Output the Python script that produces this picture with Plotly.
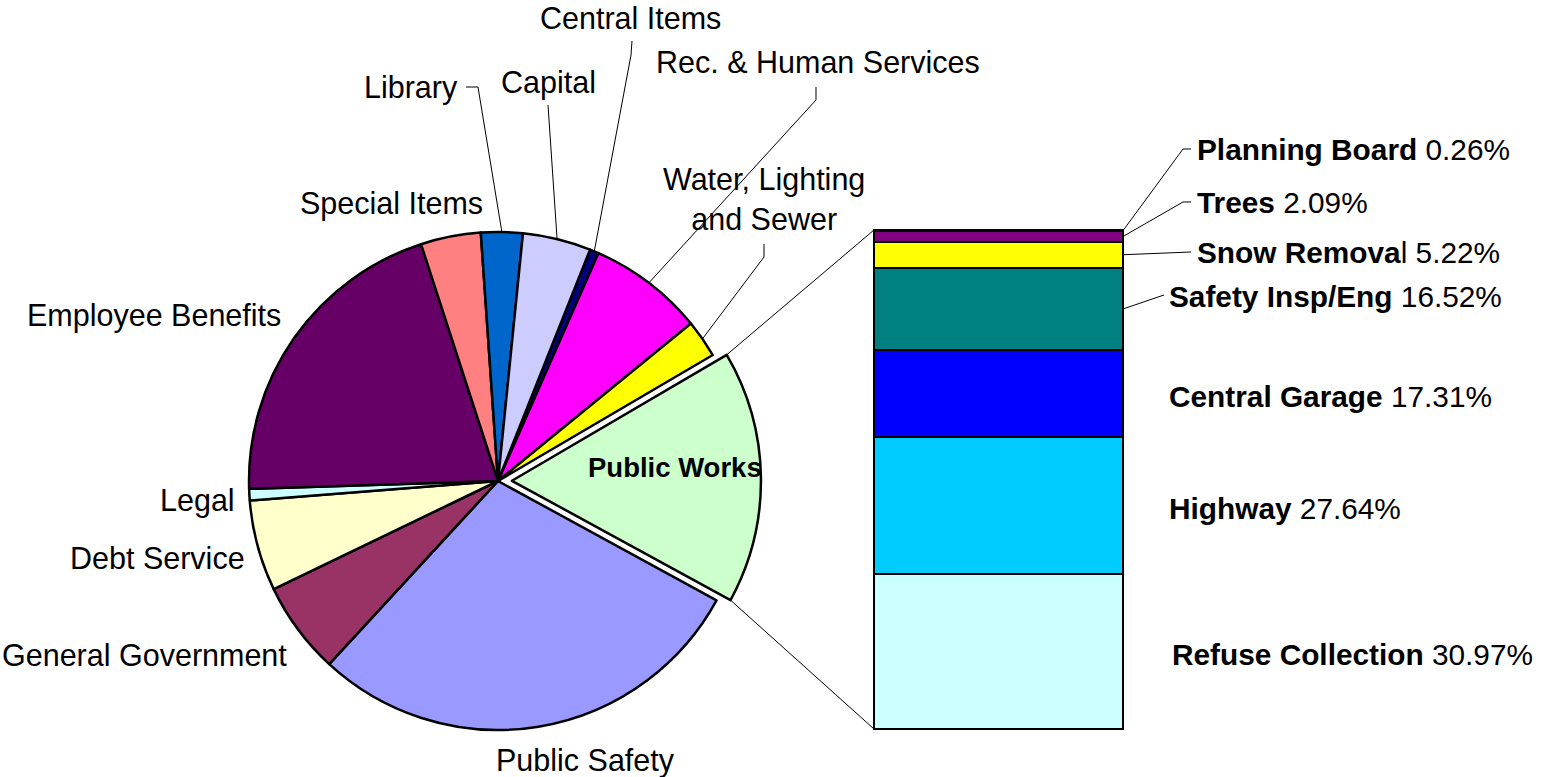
import math
import plotly.graph_objects as go

# ---------------------------------------------------------------
# Budget share by department (percent of total), clockwise order
# ---------------------------------------------------------------
departments = ["Central Items", "Rec. & Human Services", "Water, Lighting and Sewer",
               "Public Works", "Public Safety", "General Government", "Debt Service",
               "Legal", "Employee Benefits", "Special Items", "Library", "Capital"]
dept_share = [0.58, 7.5, 2.45, 16.4, 28.9, 6.0, 5.9, 0.75, 20.5, 3.9, 2.7, 4.43]
dept_colors = ["#000080", "#FF00FF", "#FFFF00", "#CCFFCC", "#9999FF", "#993366",
               "#FFFFCC", "#CCFFFF", "#660066", "#FF8080", "#0066CC", "#CCCCFF"]

# Public Works breakdown (percent of Public Works), bottom of stack first
pw_items = ["Refuse Collection", "Highway", "Central Garage", "Safety Insp/Eng",
            "Snow Removal", "Trees", "Planning Board"]
pw_share = [30.97, 27.64, 17.31, 16.52, 5.22, 2.09, 0.26]
pw_colors = ["#CCFFFF", "#00CCFF", "#0000FF", "#008080", "#FFFF00", "#800080", "#FF99CC"]

# ---------------------------------------------------------------
# Layout geometry (pixels)
# ---------------------------------------------------------------
W, H = 1550, 777
FONT = "Liberation Sans, Arial, sans-serif"
FS = 30.5
FS_BAR = 29.8
PIE_CX, PIE_CY, PIE_R = 498, 481, 249
PULL = 0.056
ROTATION = 21.7
BAR_LEFT, BAR_RIGHT = 874, 1123
BAR_TOP, BAR_BOTTOM = 230, 729
EXPLODED = "Public Works"


def px(x):
    return x / W


def py(y):
    return 1 - y / H


# Pie domain chosen so that the pie sits at the requested center / radius
half_box = PIE_R * (1 + PULL)
pie_domain_x = [px(PIE_CX - half_box), px(PIE_CX + half_box)]
pie_domain_y = [py(PIE_CY + half_box), py(PIE_CY - half_box)]

pulls = [PULL if d == EXPLODED else 0 for d in departments]

fig = go.Figure()
fig.add_trace(go.Pie(
    labels=departments,
    values=dept_share,
    sort=False,
    direction="clockwise",
    rotation=ROTATION,
    pull=pulls,
    marker=dict(colors=dept_colors, line=dict(color="black", width=2.5)),
    textinfo="none",
    hoverinfo="label+percent",
    domain=dict(x=pie_domain_x, y=pie_domain_y),
    showlegend=False,
))

# Stacked bar for the Public Works breakdown
pw_total = sum(pw_share)
x_pad = 0.1
y_pad = 5.0
unit_px = (BAR_BOTTOM - BAR_TOP) / pw_total
bar_px_w = BAR_RIGHT - BAR_LEFT
x_dom = [px(BAR_LEFT - bar_px_w * x_pad), px(BAR_RIGHT + bar_px_w * x_pad)]
y_dom = [py(BAR_BOTTOM + y_pad * unit_px), py(BAR_TOP - y_pad * unit_px)]

for name, val, col in zip(pw_items, pw_share, pw_colors):
    fig.add_trace(go.Bar(
        x=[0], y=[val], width=1, name=name,
        marker=dict(color=col, line=dict(color="black", width=2.5)),
        hoverinfo="name+y", showlegend=False,
    ))

fig.update_layout(
    width=W, height=H,
    margin=dict(l=0, r=0, t=0, b=0),
    paper_bgcolor="white", plot_bgcolor="rgba(0,0,0,0)",
    barmode="stack", bargap=0,
    xaxis=dict(domain=x_dom, range=[-0.5 - x_pad, 0.5 + x_pad], visible=False, fixedrange=True),
    yaxis=dict(domain=y_dom, range=[-y_pad, pw_total + y_pad], visible=False, fixedrange=True),
    font=dict(family=FONT, size=FS, color="black"),
)

# ---------------------------------------------------------------
# Pie geometry derived from the data
# ---------------------------------------------------------------
total = sum(dept_share)
slice_geo = {}
cum = 0.0
for d, v in zip(departments, dept_share):
    a0 = ROTATION + cum / total * 360
    a1 = ROTATION + (cum + v) / total * 360
    cum += v
    mid = (a0 + a1) / 2
    off = PULL * PIE_R if d == EXPLODED else 0
    cx = PIE_CX + off * math.sin(math.radians(mid))
    cy = PIE_CY - off * math.cos(math.radians(mid))
    slice_geo[d] = dict(a0=a0, a1=a1, mid=mid, cx=cx, cy=cy)


def rim_point(d, angle=None, rf=1.0):
    g = slice_geo[d]
    a = math.radians(g["mid"] if angle is None else angle)
    return g["cx"] + PIE_R * rf * math.sin(a), g["cy"] - PIE_R * rf * math.cos(a)


def path_shape(points, width=1):
    p = "M " + " L ".join(f"{px(x):.5f},{py(y):.5f}" for x, y in points)
    return dict(type="path", path=p, xref="paper", yref="paper",
                line=dict(color="black", width=width), layer="above")


shapes = []
annotations = []


def add_text(text, x, y, xanchor, size=FS):
    annotations.append(dict(text=text, x=px(x), y=py(y), xref="paper", yref="paper",
                            xanchor=xanchor, yanchor="middle", showarrow=False,
                            font=dict(family=FONT, size=size, color="black")))


# Department labels: (text, x, y, anchor, leader start points)
pie_labels = {
    "Central Items": ("Central Items", 723, 18, "right", [(632, 41), (631, 55)]),
    "Rec. & Human Services": ("Rec. & Human Services", 654, 62, "left", [(816, 87), (816, 100)]),
    "Water, Lighting and Sewer": ("Water, Lighting<br>and Sewer", 764, 199, "center", [(764, 244), (764, 257)]),
    "Public Safety": ("Public Safety", 585, 760, "center", None),
    "General Government": ("General Government", 289, 655, "right", None),
    "Debt Service": ("Debt Service", 247, 558, "right", None),
    "Legal": ("Legal", 237, 500, "right", None),
    "Employee Benefits": ("Employee Benefits", 283, 315, "right", None),
    "Special Items": ("Special Items", 485, 203, "right", None),
    "Library": ("Library", 460, 87, "right", [(466, 87), (478, 87)]),
    "Capital": ("Capital", 548, 82, "center", [(548, 105)]),
}
for d, (txt, x, y, anc, lead) in pie_labels.items():
    add_text(txt, x, y, anc)
    if lead:
        shapes.append(path_shape(lead + [rim_point(d)]))

# Label inside the exploded slice
add_text("<b>Public Works</b>", 675, 467, "center", size=27.5)

# Connector lines from the exploded slice to the bar
g = slice_geo[EXPLODED]
top_pt = rim_point(EXPLODED, g["a0"])
bot_pt = rim_point(EXPLODED, g["a1"])
shapes.append(path_shape([top_pt, (BAR_LEFT, BAR_TOP)]))
shapes.append(path_shape([bot_pt, (BAR_LEFT, BAR_BOTTOM)]))

# Bar segment labels
seg_mid = {}
cum = 0.0
for name, v in zip(pw_items, pw_share):
    seg_mid[name] = BAR_BOTTOM - (cum + v / 2) * unit_px
    cum += v

bar_labels = {
    "Planning Board": ("<b>Planning Board</b> 0.26%", 1195, 149, [(1191, 149), (1183, 149)]),
    "Trees": ("<b>Trees</b> 2.09%", 1195, 202, [(1191, 202), (1183, 202)]),
    "Snow Removal": ("<b>Snow Remova</b>l 5.22%", 1195, 253, [(1191, 252)]),
    "Safety Insp/Eng": ("<b>Safety Insp/Eng</b> 16.52%", 1167, 296, [(1164, 295)]),
    "Central Garage": ("<b>Central Garage</b> 17.31%", 1167, None, None),
    "Highway": ("<b>Highway</b> 27.64%", 1167, None, None),
    "Refuse Collection": ("<b>Refuse Collection</b> 30.97%", 1170, None, None),
}
for name, (txt, x, y, lead) in bar_labels.items():
    yy = seg_mid[name] + 3 if y is None else y
    add_text(txt, x, yy, "left", size=FS_BAR)
    if lead:
        shapes.append(path_shape(lead + [(BAR_RIGHT, seg_mid[name])]))

fig.update_layout(shapes=shapes, annotations=annotations)
fig.write_html("out.html")
